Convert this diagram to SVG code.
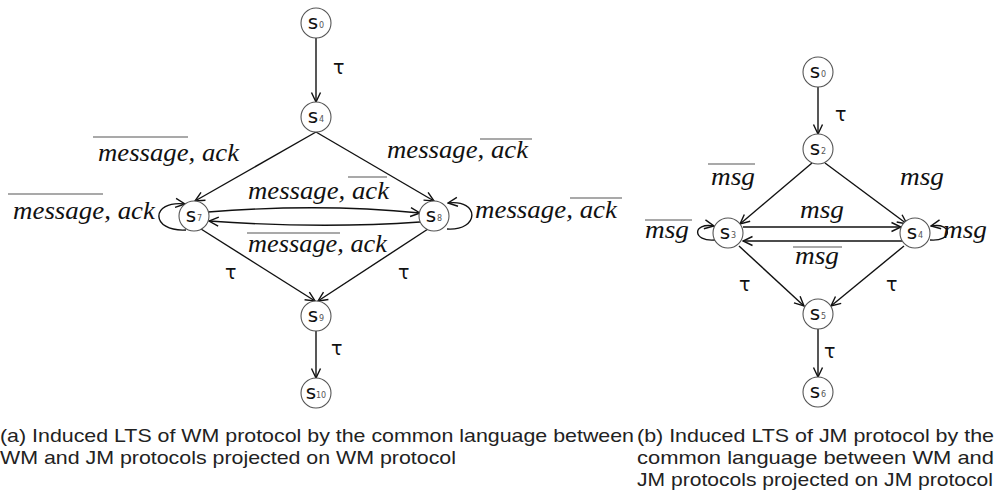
<svg xmlns="http://www.w3.org/2000/svg" width="995" height="494" viewBox="0 0 995 494">
<style>
.st circle{fill:#fff;stroke:#555;stroke-width:1.1}
.st .n{font-family:"DejaVu Sans",sans-serif;font-size:20px;fill:#111;text-anchor:middle}
.st .sub{font-family:"DejaVu Sans",sans-serif;font-size:8px;fill:#555}
.e path{fill:none;stroke:#111;stroke-width:1.4;marker-end:url(#arr)}
.lbl{font-family:"Liberation Serif",serif;font-style:italic;font-size:25px;fill:#111}
.tau{font-family:"DejaVu Sans",sans-serif;font-size:19px;fill:#111}
.ov{stroke:#555;stroke-width:1.2}
.cap{font-family:"Liberation Sans",Arial,sans-serif;font-size:19px;fill:#222}
</style>
<defs>
<marker id="arr" viewBox="0 0 12 12" refX="11" refY="6" markerWidth="12" markerHeight="12" markerUnits="userSpaceOnUse" orient="auto">
<path d="M1.5,1.5 L11,6 L1.5,10.5" fill="none" stroke="#111" stroke-width="1.4"/>
</marker>
</defs>

<!-- Left diagram connectors -->
<g id="edges-a" class="e">
<path d="M316,38 L316,102"/>
<path d="M316,132 L195,201"/>
<path d="M316,132 L434,201"/>
<path d="M208,212 Q321,203 420,213"/>
<path d="M420,222 Q321,229 209,221"/>
<path d="M186,230 C150,232 150,200 185,204"/>
<path d="M447,229 C480,231 480,199 448,203"/>
<path d="M201,229 L315,301"/>
<path d="M428,229 L318,301"/>
<path d="M316,331 L316,378"/>
</g>

<g id="labels-a">
<text class="tau" x="333" y="74">τ</text>
<text class="lbl" x="98" y="161" textLength="141" lengthAdjust="spacingAndGlyphs">message, ack</text>
<line class="ov" x1="93" y1="137" x2="188" y2="137"/>
<text class="lbl" x="387" y="158" textLength="141" lengthAdjust="spacingAndGlyphs">message, ack</text>
<line class="ov" x1="480" y1="139" x2="532" y2="139"/>
<text class="lbl" x="248" y="199" textLength="141" lengthAdjust="spacingAndGlyphs">message, ack</text>
<line class="ov" x1="348" y1="177" x2="387" y2="177"/>
<text class="lbl" x="248" y="252" textLength="139" lengthAdjust="spacingAndGlyphs">message, ack</text>
<line class="ov" x1="247" y1="233" x2="340" y2="233"/>
<text class="lbl" x="13" y="219" textLength="142" lengthAdjust="spacingAndGlyphs">message, ack</text>
<line class="ov" x1="8" y1="194" x2="103" y2="194"/>
<text class="lbl" x="475" y="218" textLength="142" lengthAdjust="spacingAndGlyphs">message, ack</text>
<line class="ov" x1="570" y1="198" x2="622" y2="198"/>
<text class="tau" x="225" y="279">τ</text>
<text class="tau" x="398" y="279">τ</text>
<text class="tau" x="331" y="355">τ</text>
</g>

<g id="a-s0" class="st"><circle cx="316" cy="23" r="15"/><text class="n" x="313" y="29">s</text><text class="sub" x="319" y="28">0</text></g>
<g id="a-s4" class="st"><circle cx="316" cy="117" r="15"/><text class="n" x="313" y="123">s</text><text class="sub" x="319" y="122">4</text></g>
<g id="a-s7" class="st"><circle cx="194" cy="216" r="15"/><text class="n" x="191" y="222">s</text><text class="sub" x="197" y="221">7</text></g>
<g id="a-s8" class="st"><circle cx="434" cy="216" r="15"/><text class="n" x="431" y="222">s</text><text class="sub" x="437" y="221">8</text></g>
<g id="a-s9" class="st"><circle cx="316" cy="316" r="15"/><text class="n" x="313" y="322">s</text><text class="sub" x="319" y="321">9</text></g>
<g id="a-s10" class="st"><circle cx="316" cy="393" r="15"/><text class="n" x="311" y="399">s</text><text class="sub" x="316" y="398">10</text></g>

<!-- Right diagram connectors -->
<g id="edges-b" class="e">
<path d="M818,87 L818,134"/>
<path d="M812,163 L740,224"/>
<path d="M825,163 L907,224"/>
<path d="M743,227 L901,227"/>
<path d="M902,241 L743,241"/>
<path d="M715,240 C692,242 692,222 714,226"/>
<path d="M930,240 C953,242 953,222 931,226"/>
<path d="M739,246 L804,306"/>
<path d="M904,246 L831,306"/>
<path d="M818,329 L818,377"/>
</g>

<g id="labels-b">
<text class="tau" x="835" y="121">τ</text>
<text class="lbl" x="711" y="185" textLength="44" lengthAdjust="spacingAndGlyphs">msg</text>
<line class="ov" x1="708" y1="164" x2="755" y2="164"/>
<text class="lbl" x="900" y="185" textLength="44" lengthAdjust="spacingAndGlyphs">msg</text>
<text class="lbl" x="800" y="218" textLength="44" lengthAdjust="spacingAndGlyphs">msg</text>
<text class="lbl" x="795" y="264" textLength="44" lengthAdjust="spacingAndGlyphs">msg</text>
<line class="ov" x1="793" y1="247" x2="842" y2="247"/>
<text class="lbl" x="645" y="238" textLength="44" lengthAdjust="spacingAndGlyphs">msg</text>
<line class="ov" x1="645" y1="220" x2="692" y2="220"/>
<text class="lbl" x="943" y="238" textLength="44" lengthAdjust="spacingAndGlyphs">msg</text>
<text class="tau" x="739" y="291">τ</text>
<text class="tau" x="886" y="291">τ</text>
<text class="tau" x="824" y="358">τ</text>
</g>

<g id="b-s0" class="st"><circle cx="818" cy="72" r="15"/><text class="n" x="815" y="78">s</text><text class="sub" x="821" y="77">0</text></g>
<g id="b-s2" class="st"><circle cx="818" cy="149" r="15"/><text class="n" x="815" y="155">s</text><text class="sub" x="821" y="154">2</text></g>
<g id="b-s3" class="st"><circle cx="728" cy="233" r="15"/><text class="n" x="725" y="239">s</text><text class="sub" x="731" y="238">3</text></g>
<g id="b-s4" class="st"><circle cx="915" cy="233" r="15"/><text class="n" x="912" y="239">s</text><text class="sub" x="918" y="238">4</text></g>
<g id="b-s5" class="st"><circle cx="818" cy="314" r="15"/><text class="n" x="815" y="320">s</text><text class="sub" x="821" y="319">5</text></g>
<g id="b-s6" class="st"><circle cx="818" cy="392" r="15"/><text class="n" x="815" y="398">s</text><text class="sub" x="821" y="397">6</text></g>

<g id="captions">
<text class="cap" x="0" y="442" textLength="634" lengthAdjust="spacingAndGlyphs">(a)  Induced LTS of WM protocol by the common language between</text>
<text class="cap" x="0" y="464" textLength="456" lengthAdjust="spacingAndGlyphs">WM and JM protocols projected on WM protocol</text>
<text class="cap" x="637" y="442" textLength="357" lengthAdjust="spacingAndGlyphs">(b)  Induced LTS of JM protocol by the</text>
<text class="cap" x="637" y="464" textLength="357" lengthAdjust="spacingAndGlyphs">common language between WM and</text>
<text class="cap" x="637" y="486" textLength="356" lengthAdjust="spacingAndGlyphs">JM protocols projected on JM protocol</text>
</g>
</svg>
